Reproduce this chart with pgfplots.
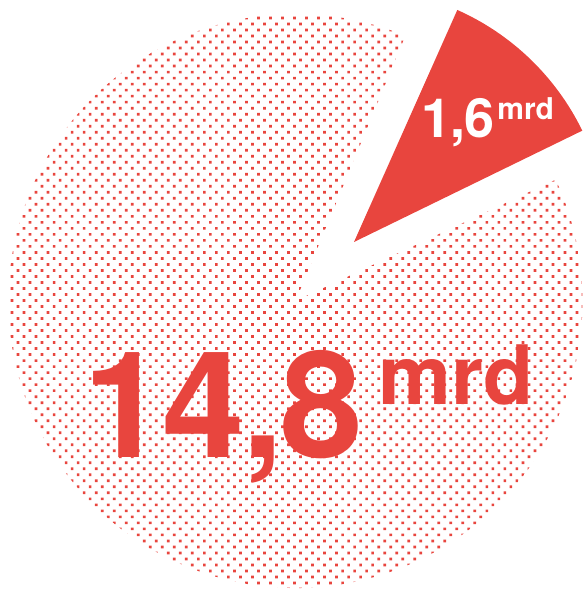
\documentclass[border=0pt]{standalone}
\usepackage{fontspec}
\setmainfont{TeX Gyre Heros}
\usepackage{pgfplots}
\pgfplotsset{compat=1.18}
\usetikzlibrary{patterns.meta}

\definecolor{pier}{HTML}{E8453E}

% values (mrd) and the angles of the pieces as drawn
\def\bigval{14,8}
\def\smallval{1,6}
\def\bigstart{67.5}  \def\bigend{385}
\def\slicestart{26}  \def\sliceend{66}

\begin{document}
\begin{tikzpicture}
\begin{axis}[
  scale only axis,
  width=292pt, height=294.5pt,
  xmin=0, xmax=584, ymin=0, ymax=589,
  hide axis,
]
\path (axis cs:0,0) rectangle (axis cs:584,589);

% large dotted piece
\fill[pattern={Dots[distance=4.25pt, radius=0.95pt, angle=45]}, pattern color=pier]
  (axis cs:295.5,288) -- ++(\bigstart:143.5pt)
  arc[start angle=\bigstart, end angle=\bigend, radius=143.5pt] -- cycle;

% small solid piece, pulled out
\fill[pier]
  (axis cs:354,347) -- ++(\slicestart:127pt)
  arc[start angle=\slicestart, end angle=\sliceend, radius=127pt] -- cycle;

\node[anchor=base west, inner sep=0, text=pier,
      font=\fontsize{74}{74}\selectfont\bfseries\addfontfeatures{LetterSpace=-2}]
  at (axis cs:83,131) {\bigval};
\node[anchor=base west, inner sep=0, text=pier, font=\fontsize{41}{41}\selectfont\bfseries]
  at (axis cs:378,184) {mrd};

\node[anchor=base west, inner sep=0, text=white,
      font=\fontsize{27}{27}\selectfont\bfseries\addfontfeatures{LetterSpace=-2}]
  at (axis cs:421,451) {\smallval};
\node[anchor=base west, inner sep=0, text=white, font=\fontsize{15}{15}\selectfont\bfseries]
  at (axis cs:497,469) {mrd};
\end{axis}
\end{tikzpicture}
\end{document}
